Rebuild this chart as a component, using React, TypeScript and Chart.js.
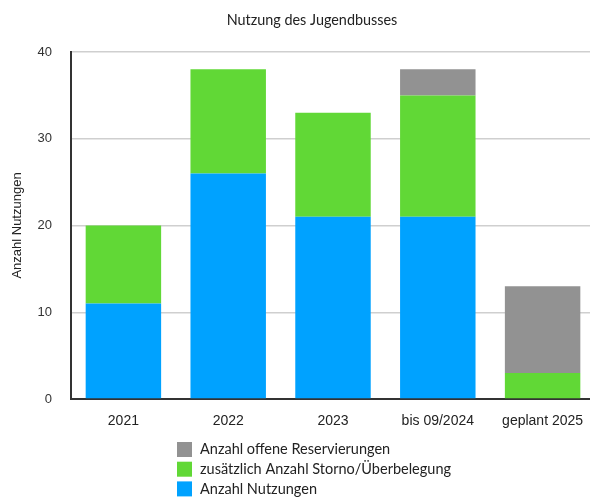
import React, { useEffect, useRef } from "react";
import { Chart, registerables } from "chart.js";

Chart.register(...registerables);

const categories = ["2021", "2022", "2023", "bis 09/2024", "geplant 2025"];
const nutzungen = [11, 26, 21, 21, 0];
const storno = [9, 12, 12, 14, 3];
const offen = [0, 0, 0, 3, 10];
const yTicks = [0, 10, 20, 30, 40];

const TITLE = "Nutzung des Jugendbusses";
const Y_TITLE = "Anzahl Nutzungen";

const titlePlugin = {
  id: "customTitle",
  afterDraw(chart: any) {
    const ctx = chart.ctx;
    ctx.save();
    ctx.fillStyle = "#222";
    ctx.font = "14.4px Lato, 'Noto Sans', sans-serif";
    ctx.textAlign = "center";
    ctx.textBaseline = "middle";
    ctx.fillText(TITLE, 312, 20);
    ctx.restore();
  },
};

const legendPlugin = {
  id: "customLegend",
  afterDraw(chart: any) {
    const ctx = chart.ctx;
    const ds = chart.data.datasets.slice().reverse();
    ctx.save();
    ctx.font = "14.5px Lato, 'Noto Sans', sans-serif";
    ctx.textBaseline = "middle";
    ctx.textAlign = "left";
    ds.forEach((d: any, i: number) => {
      const y = 449 + i * 19.7;
      ctx.fillStyle = d.backgroundColor;
      ctx.fillRect(177, y - 7, 15, 15);
      ctx.fillStyle = "#222";
      ctx.fillText(d.label, 200, y + 0.5);
    });
    ctx.restore();
  },
};

export default function App() {
  const ref = useRef<HTMLCanvasElement | null>(null);
  useEffect(() => {
    if (!ref.current) return;
    const chart = new Chart(ref.current, {
      type: "bar",
      data: {
        labels: categories,
        datasets: [
          { label: "Anzahl Nutzungen", data: nutzungen, backgroundColor: "#00a2ff" },
          { label: "zusätzlich Anzahl Storno/Überbelegung", data: storno, backgroundColor: "#61d836" },
          { label: "Anzahl offene Reservierungen", data: offen, backgroundColor: "#929292" },
        ],
      },
      options: {
        animation: false,
        responsive: false,
        maintainAspectRatio: false,
        layout: { padding: { top: 52, right: 5, bottom: 0, left: 0 } },
        plugins: { legend: { display: false }, title: { display: false }, tooltip: { enabled: false } },
        datasets: { bar: { categoryPercentage: 1, barPercentage: 0.72 } } as any,
        scales: {
          x: {
            stacked: true,
            grid: { display: false },
            border: { color: "#333", width: 2 },
            ticks: {
              color: "#222",
              font: { family: "'Liberation Sans', Arial, sans-serif", size: 14 },
              padding: 6,
              maxRotation: 0,
            },
            afterFit(scale: any) {
              scale.height = 100;
            },
          },
          y: {
            stacked: true,
            min: 0,
            max: 40,
            afterBuildTicks(scale: any) {
              scale.ticks = yTicks.map((v) => ({ value: v }));
            },
            grid: { color: "#cfcfcf", lineWidth: 1.5, drawTicks: false },
            border: { color: "#333", width: 2 },
            ticks: {
              color: "#333",
              font: { family: "'Liberation Sans', Arial, sans-serif", size: 13 },
              padding: 19,
            },
            title: {
              display: true,
              text: Y_TITLE,
              color: "#222",
              font: { family: "'Liberation Sans', Arial, sans-serif", size: 13 },
              padding: { top: 10, bottom: 0 },
            },
            afterFit(scale: any) {
              scale.width = 71;
            },
          },
        },
      },
      plugins: [titlePlugin, legendPlugin],
    });
    return () => chart.destroy();
  }, []);
  return (
    <div style={{ position: "fixed", left: 0, top: 0, width: 590, height: 499, overflow: "hidden", background: "#fff" }}>
      <canvas ref={ref} width={600} height={499} style={{ width: 600, height: 499 }} />
    </div>
  );
}
